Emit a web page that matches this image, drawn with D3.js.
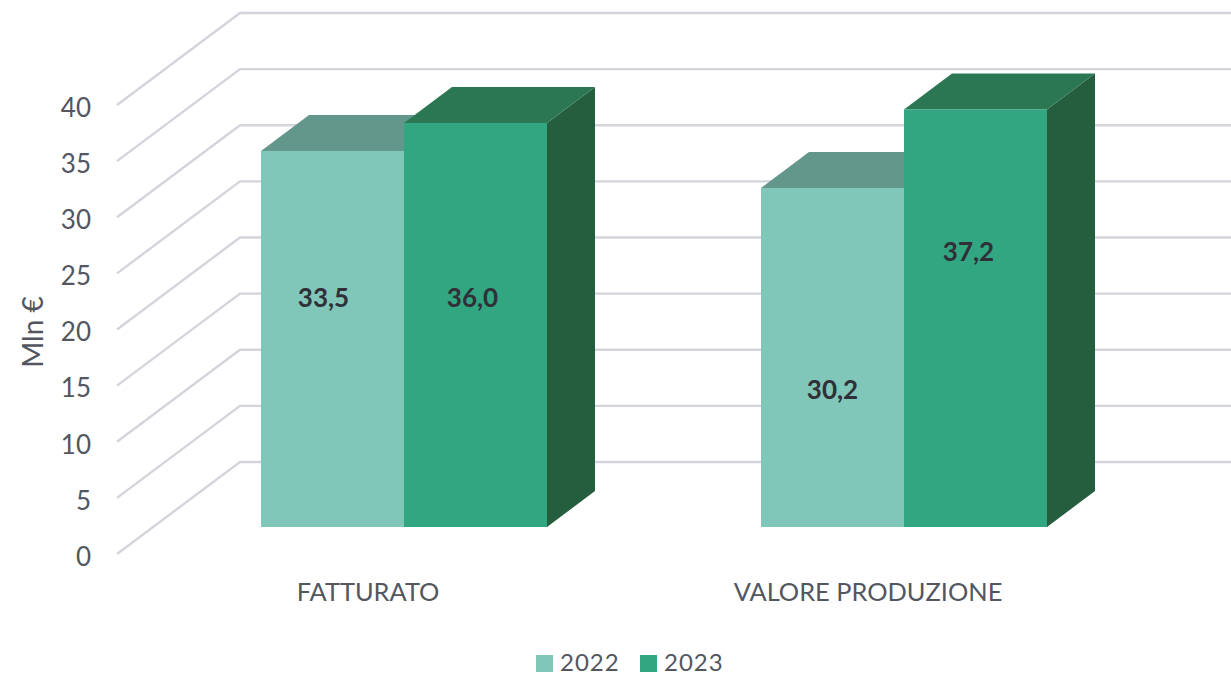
<!DOCTYPE html>
<html>
<head>
<meta charset="utf-8">
<script src="https://cdn.jsdelivr.net/npm/d3@7"></script>
<style>
  html, body { margin: 0; background: #fff; }
  svg { display: block; }
  text { font-family: Lato, "Open Sans", sans-serif; fill: #53565f; }
  .domain { display: none; }
</style>
</head>
<body>
<svg id="chart" width="1231" height="675"></svg>
<script>
const categories = ["FATTURATO", "VALORE PRODUZIONE"];
const years = ["2022", "2023"];
const values2022 = [33.5, 30.2];
const values2023 = [36.0, 37.2];
const yTicks = [0, 5, 10, 15, 20, 25, 30, 35, 40];

const colors = {
  "2022": { front: "#80c7b9", top: "#63978c", side: "#4f8075" },
  "2023": { front: "#31a681", top: "#2b7753", side: "#245e3e" }
};

// labels were moved by hand in the original, so they don't sit mid bar
const labelShift = {
  "2022": [{ dx: -9, dy: -41 }, { dx: 0, dy: 32 }],
  "2023": [{ dx: -3, dy: -27 }, { dx: -7, dy: -66 }]
};

const svg = d3.select("#chart");
const floorY = 527;      // bottom of the bars
const axisY = 554;       // zero on the front edge
const backY = 462;       // zero on the back wall
const depthX = 48, depthY = 36;

const xScale = d3.scaleBand().domain(categories).range([154, 1154]);
const seriesScale = d3.scaleBand().domain(years).range([-143, 143]);
const yScale = d3.scaleLinear().domain([0, 40]).range([0, -449]);

// grid: slanted part on the side wall, then flat along the back
svg.append("g")
  .selectAll("path")
  .data(yTicks)
  .join("path")
  .attr("d", (t) => {
    const y = yScale(t);
    return `M117,${axisY + y}L240,${backY + y}L1231,${backY + y}`;
  })
  .attr("fill", "none")
  .attr("stroke", "#d4d5dc")
  .attr("stroke-width", 2.4);

const rows = [];
years.forEach((year, s) => {
  const vals = s === 0 ? values2022 : values2023;
  categories.forEach((cat, i) => rows.push({ cat, year, value: vals[i], i }));
});

const bars = svg.append("g")
  .selectAll("g")
  .data(rows)
  .join("g")
  .attr("transform", (d) => `translate(${xScale(d.cat) + xScale.bandwidth() / 2 + seriesScale(d.year)},${floorY})`);

const w = seriesScale.bandwidth();

bars.append("path")
  .attr("d", (d) => {
    const t = yScale(d.value);
    return `M${w},0L${w + depthX},${-depthY}L${w + depthX},${t - depthY}L${w},${t}Z`;
  })
  .attr("fill", (d) => colors[d.year].side);

bars.append("path")
  .attr("d", (d) => {
    const t = yScale(d.value);
    return `M0,${t}L${depthX},${t - depthY}L${w + depthX},${t - depthY}L${w},${t}Z`;
  })
  .attr("fill", (d) => colors[d.year].top);

bars.append("rect")
  .attr("y", (d) => yScale(d.value))
  .attr("width", w)
  .attr("height", (d) => -yScale(d.value))
  .attr("fill", (d) => colors[d.year].front);

bars.append("text")
  .attr("x", (d) => w / 2 + labelShift[d.year][d.i].dx)
  .attr("y", (d) => yScale(d.value) / 2 + labelShift[d.year][d.i].dy)
  .attr("dy", "0.35em")
  .attr("text-anchor", "middle")
  .attr("font-size", 26)
  .attr("font-weight", 700)
  .style("fill", "#2f3038")
  .text((d) => d.value.toFixed(1).replace(".", ","));

// y axis labels
const yAxisScale = d3.scaleLinear().domain([0, 40]).range([axisY, axisY - 449]);
svg.append("g")
  .attr("transform", "translate(91,3)")
  .call(d3.axisLeft(yAxisScale).tickValues(yTicks).tickSize(0).tickPadding(0))
  .call((g) => g.selectAll("text").attr("font-size", 26).style("font-family", "Lato"));

svg.append("text")
  .attr("transform", "translate(33,332) rotate(-90)")
  .attr("dy", "0.35em")
  .attr("text-anchor", "middle")
  .attr("font-size", 28)
  .text("Mln €");

// category labels
svg.append("g")
  .attr("transform", "translate(-36,592)")
  .call(d3.axisBottom(xScale).tickSize(0).tickPadding(0))
  .call((g) => g.selectAll("text").attr("dy", "0.35em").attr("font-size", 25.4).style("font-family", "Lato"));

// legend
const legendX = d3.scaleOrdinal().domain(years).range([536, 640]);
const legend = svg.append("g")
  .selectAll("g")
  .data(years)
  .join("g")
  .attr("transform", (y) => `translate(${legendX(y)},655)`);
legend.append("rect")
  .attr("width", 17).attr("height", 17)
  .attr("fill", (y) => colors[y].front);
legend.append("text")
  .attr("x", 24).attr("y", 7.5)
  .attr("dy", "0.35em")
  .attr("font-size", 24)
  .attr("letter-spacing", 1)
  .text((y) => y);
</script>
</body>
</html>
